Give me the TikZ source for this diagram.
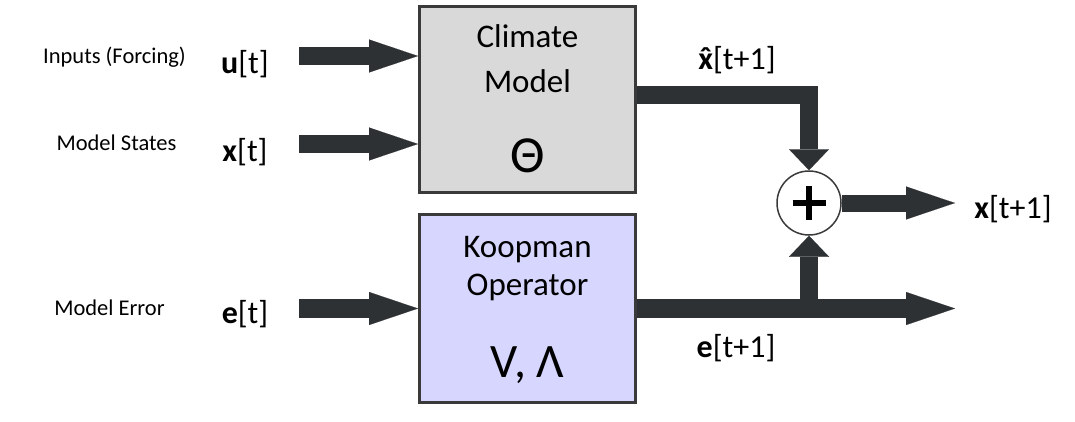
\documentclass[tikz,border=0pt]{standalone}
\usepackage{fontspec}
\setmainfont{Carlito}
\usetikzlibrary{arrows.meta}
\definecolor{flowgray}{HTML}{2E3134}
\definecolor{climfill}{HTML}{D9D9D9}
\definecolor{koopfill}{HTML}{D6D6FE}
\definecolor{boxline}{HTML}{3A3A3A}
\newcommand{\hatx}{\ooalign{x\cr\hidewidth ˆ\hidewidth\cr}}
\tikzstyle{block} = [rectangle, draw=boxline, line width=3pt, minimum width=216pt, inner sep=0]
\tikzstyle{flow} = [draw=flowgray, line width=18.5pt, line join=miter, -{Triangle[width=33pt,length=49pt,line width=0.1pt]}]
\tikzstyle{flowshort} = [flow, -{Triangle[width=40pt,length=21pt,line width=0.1pt]}]
\tikzstyle{sumdot} = [circle, draw=boxline, line width=1.5pt, fill=white, minimum size=64pt, inner sep=0]
\tikzstyle{note} = [font=\fontsize{22.5}{27}\selectfont, anchor=base]
\tikzstyle{signal} = [font=\fontsize{32}{36}\selectfont, inner sep=0]
\tikzstyle{boxtext} = [font=\fontsize{33}{40}\selectfont, anchor=base]
\tikzstyle{param} = [font=\fontsize{48}{56}\selectfont, anchor=base]
\begin{document}
\begin{tikzpicture}[x=1pt,y=-1pt]
\useasboundingbox (0,0) rectangle (1075,421);
% the two blocks
\node[block, fill=climfill, minimum height=186pt] (clim) at (527.5,99.5) {};
\node[block, fill=koopfill, minimum height=188pt] (koop) at (527.5,308.5) {};
\node[boxtext] (climtop) at (527.5,47) {Climate};
\node[boxtext] (climbot) at (527.5,92) {Model};
\node[param, font=\fontsize{52}{56}\selectfont] (theta) at (527.5,172) {Θ};
\node[boxtext] (kooptop) at (527.5,257) {Koopman};
\node[boxtext] (koopbot) at (527.5,295) {Operator};
\node[param] (eig) at (527.5,377) {V, Λ};
% summing point
\node[sumdot] (sum) at (809,203) {};
\draw[line width=6.5pt] ([xshift=-16.5pt]sum.center) -- ([xshift=16.5pt]sum.center);
\draw[line width=6.5pt] ([yshift=-17pt]sum.center) -- ([yshift=17pt]sum.center);
% labels
\node[note] (inlab) at (114.5,63) {Inputs (Forcing)};
\node[note] (statelab) at (116.5,150) {Model States};
\node[note] (errlab) at (109.5,315) {Model Error};
\node[signal] (ulab) at (245,64) {\textbf{u}[t]};
\node[signal] (xlab) at (245,152) {\textbf{x}[t]};
\node[signal] (elab) at (245,314.5) {\textbf{e}[t]};
\node[signal] (xhatlab) at (737,60) {\textbf{\hatx}[t+1]};
\node[signal] (enextlab) at (736,348) {\textbf{e}[t+1]};
\node[signal] (xnextlab) at (1013,209) {\textbf{x}[t+1]};
% free ends
\coordinate (uin) at (299,56);
\coordinate (xin) at (299,144);
\coordinate (ein) at (299,308.5);
\coordinate (xcorner) at (809,95);
\coordinate (xout) at (955,203);
\coordinate (eout) at (955,308.5);
% flows
\draw[flow] (uin) -- (uin -| clim.west);
\draw[flow] (xin) -- (xin -| clim.west);
\draw[flow] (ein) -- (ein -| koop.west);
\draw[flowshort] (xcorner -| clim.east) -- (xcorner) -- (sum.north);
\draw[flow] (koop.east |- eout) -- (eout);
\draw[flowshort] (sum |- eout) -- (sum.south);
\draw[flow, line width=17pt] (sum.east) -- (xout);
\end{tikzpicture}
\end{document}
